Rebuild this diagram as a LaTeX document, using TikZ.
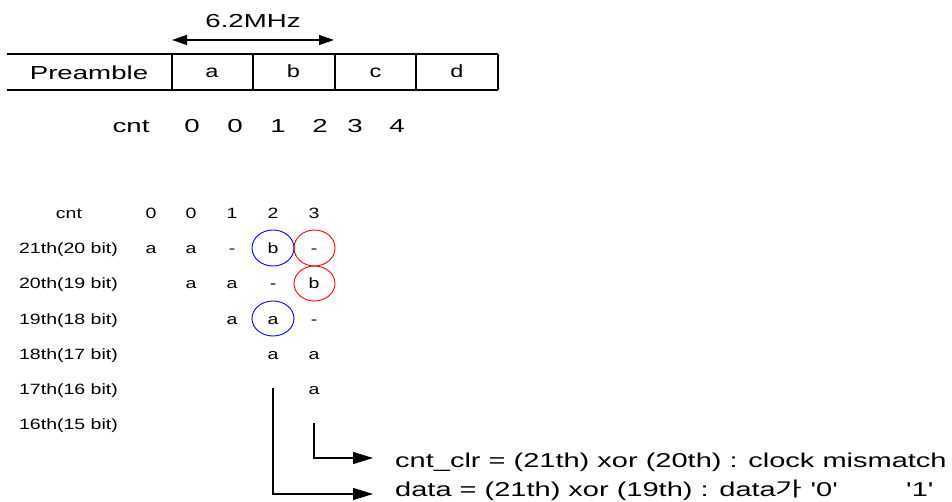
\documentclass[tikz,border=0pt]{standalone}
\usepackage{fontspec}
\setmainfont{Liberation Sans}
\newfontfamily\krfont{Noto Sans CJK KR}
\usetikzlibrary{arrows.meta}

% horizontally widened text
\newcommand\wide[2]{\scalebox{#1}[1]{#2}}
\newcommand\bigtxt[1]{\wide{1.47}{#1}}
\newcommand\celltxt[1]{\wide{1.33}{#1}}
\newcommand\tabtxt[1]{\wide{1.31}{#1}}
\newcommand\eqtxt[1]{\wide{1.45}{#1}}
\newcommand\sq{\textquotesingle}

\tikzset{
  bigfont/.style={font=\fontsize{18.8}{18.8}\selectfont, inner sep=0pt, anchor=base},
  cellfont/.style={font=\fontsize{17.7}{17.7}\selectfont, inner sep=0pt, anchor=base},
  tabfont/.style={font=\fontsize{14.9}{14.9}\selectfont, inner sep=0pt, anchor=base},
  eqfont/.style={font=\fontsize{20}{20}\selectfont, inner sep=0pt, anchor=base west},
  frame/.style={line width=1.2pt},
  link/.style={line width=1.3pt},
  bluering/.style={draw=blue, line width=0.9pt},
  redring/.style={draw=red, line width=0.9pt},
}

\begin{document}
\begin{tikzpicture}[x=1pt, y=-1pt]
\useasboundingbox (0,0) rectangle (952,502);

% ---- frame with the preamble and symbols a..d ----
\coordinate (fl) at (7,54);
\coordinate (fr) at (498,54);
\coordinate (bl) at (7,90);
\coordinate (br) at (498,90);
\draw[frame] (fl) -- (fr);
\draw[frame] (bl) -- (br);
\foreach \x in {172,253,335,416,498}
  \draw[frame] (\x,54) -- (\x,90);

\node[bigfont]  (pre) at (89,79.3) {\bigtxt{Preamble}};
\node[cellfont] (ca)  at (212,77.7) {\celltxt{a}};
\node[cellfont] (cb)  at (293.5,77.7) {\celltxt{b}};
\node[cellfont] (cc)  at (375.5,77.7) {\celltxt{c}};
\node[cellfont] (cd)  at (457,77.7) {\celltxt{d}};

% symbol period
\coordinate (pl) at (172,40);
\coordinate (pr) at (334,40);
\draw[link, {Triangle[length=15pt,width=10pt]}-{Triangle[length=15pt,width=10pt]}] (pl) -- (pr);
\node[bigfont] (mhz) at (253,27.7) {\bigtxt{6.2MHz}};

% counter under the frame
\node[bigfont] (tcnt) at (131,132.7) {\bigtxt{cnt}};
\node[bigfont] (t0) at (192,132.7) {\bigtxt{0}};
\node[bigfont] (t1) at (235,132.7) {\bigtxt{0}};
\node[bigfont] (t2) at (278,132.7) {\bigtxt{1}};
\node[bigfont] (t3) at (320,132.7) {\bigtxt{2}};
\node[bigfont] (t4) at (355,132.7) {\bigtxt{3}};
\node[bigfont] (t5) at (397,132.7) {\bigtxt{4}};

% ---- shift register table ----
\node[tabfont] (hcnt) at (69,218.5) {\tabtxt{cnt}};
\node[tabfont] (l21) at (68.5,254) {\tabtxt{21th(20 bit)}};
\node[tabfont] (l20) at (68.5,289) {\tabtxt{20th(19 bit)}};
\node[tabfont] (l19) at (68.5,324) {\tabtxt{19th(18 bit)}};
\node[tabfont] (l18) at (68.5,359) {\tabtxt{18th(17 bit)}};
\node[tabfont] (l17) at (68.5,394) {\tabtxt{17th(16 bit)}};
\node[tabfont] (l16) at (68.5,429) {\tabtxt{16th(15 bit)}};

\node[tabfont] (h0) at (151,218.5) {\tabtxt{0}};
\node[tabfont] (h1) at (191,218.5) {\tabtxt{0}};
\node[tabfont] (h2) at (232,218.5) {\tabtxt{1}};
\node[tabfont] (h3) at (273,218.5) {\tabtxt{2}};
\node[tabfont] (h4) at (314,218.5) {\tabtxt{3}};

\node[tabfont] (a0) at (151,254) {\tabtxt{a}};
\node[tabfont] (a1) at (191,254) {\tabtxt{a}};
\node[tabfont] (a2) at (232,254) {\tabtxt{-}};
\node[tabfont] (a3) at (273,254) {\tabtxt{b}};
\node[tabfont] (a4) at (314,254) {\tabtxt{-}};

\node[tabfont] (b1) at (191,289) {\tabtxt{a}};
\node[tabfont] (b2) at (232,289) {\tabtxt{a}};
\node[tabfont] (b3) at (273,289) {\tabtxt{-}};
\node[tabfont] (b4) at (314,289) {\tabtxt{b}};

\node[tabfont] (c2) at (232,324) {\tabtxt{a}};
\node[tabfont] (c3) at (273,324) {\tabtxt{a}};
\node[tabfont] (c4) at (314,324) {\tabtxt{-}};

\node[tabfont] (d3) at (273,359) {\tabtxt{a}};
\node[tabfont] (d4) at (314,359) {\tabtxt{a}};

\node[tabfont] (e4) at (314,394) {\tabtxt{a}};

% compared bits
\draw[bluering] (273,248) ellipse (21 and 18);
\draw[redring]  (314.5,248) ellipse (20.5 and 18);
\draw[redring]  (314.5,283.5) ellipse (20.5 and 17.5);
\draw[bluering] (273,318.5) ellipse (21 and 17.5);

% ---- results ----
\node[eqfont] (clr) at (395,467) {\eqtxt{cnt\_clr = (21th) xor (20th) : clock mismatch}};
\node[eqfont] (dat) at (395,496) {\eqtxt{data = (21th) xor (19th) : data{\krfont 가} \sq0\sq}};
\node[eqfont] (one) at (906,496) {\eqtxt{\sq1\sq}};

\coordinate (s1) at (314,423);
\coordinate (e1) at (373,458);
\coordinate (s2) at (273,388);
\coordinate (e2) at (373,494);
\draw[link, -{Triangle[length=20pt,width=12pt]}] (s1) |- (e1);
\draw[link, -{Triangle[length=20pt,width=12pt]}] (s2) |- (e2);
\end{tikzpicture}
\end{document}
